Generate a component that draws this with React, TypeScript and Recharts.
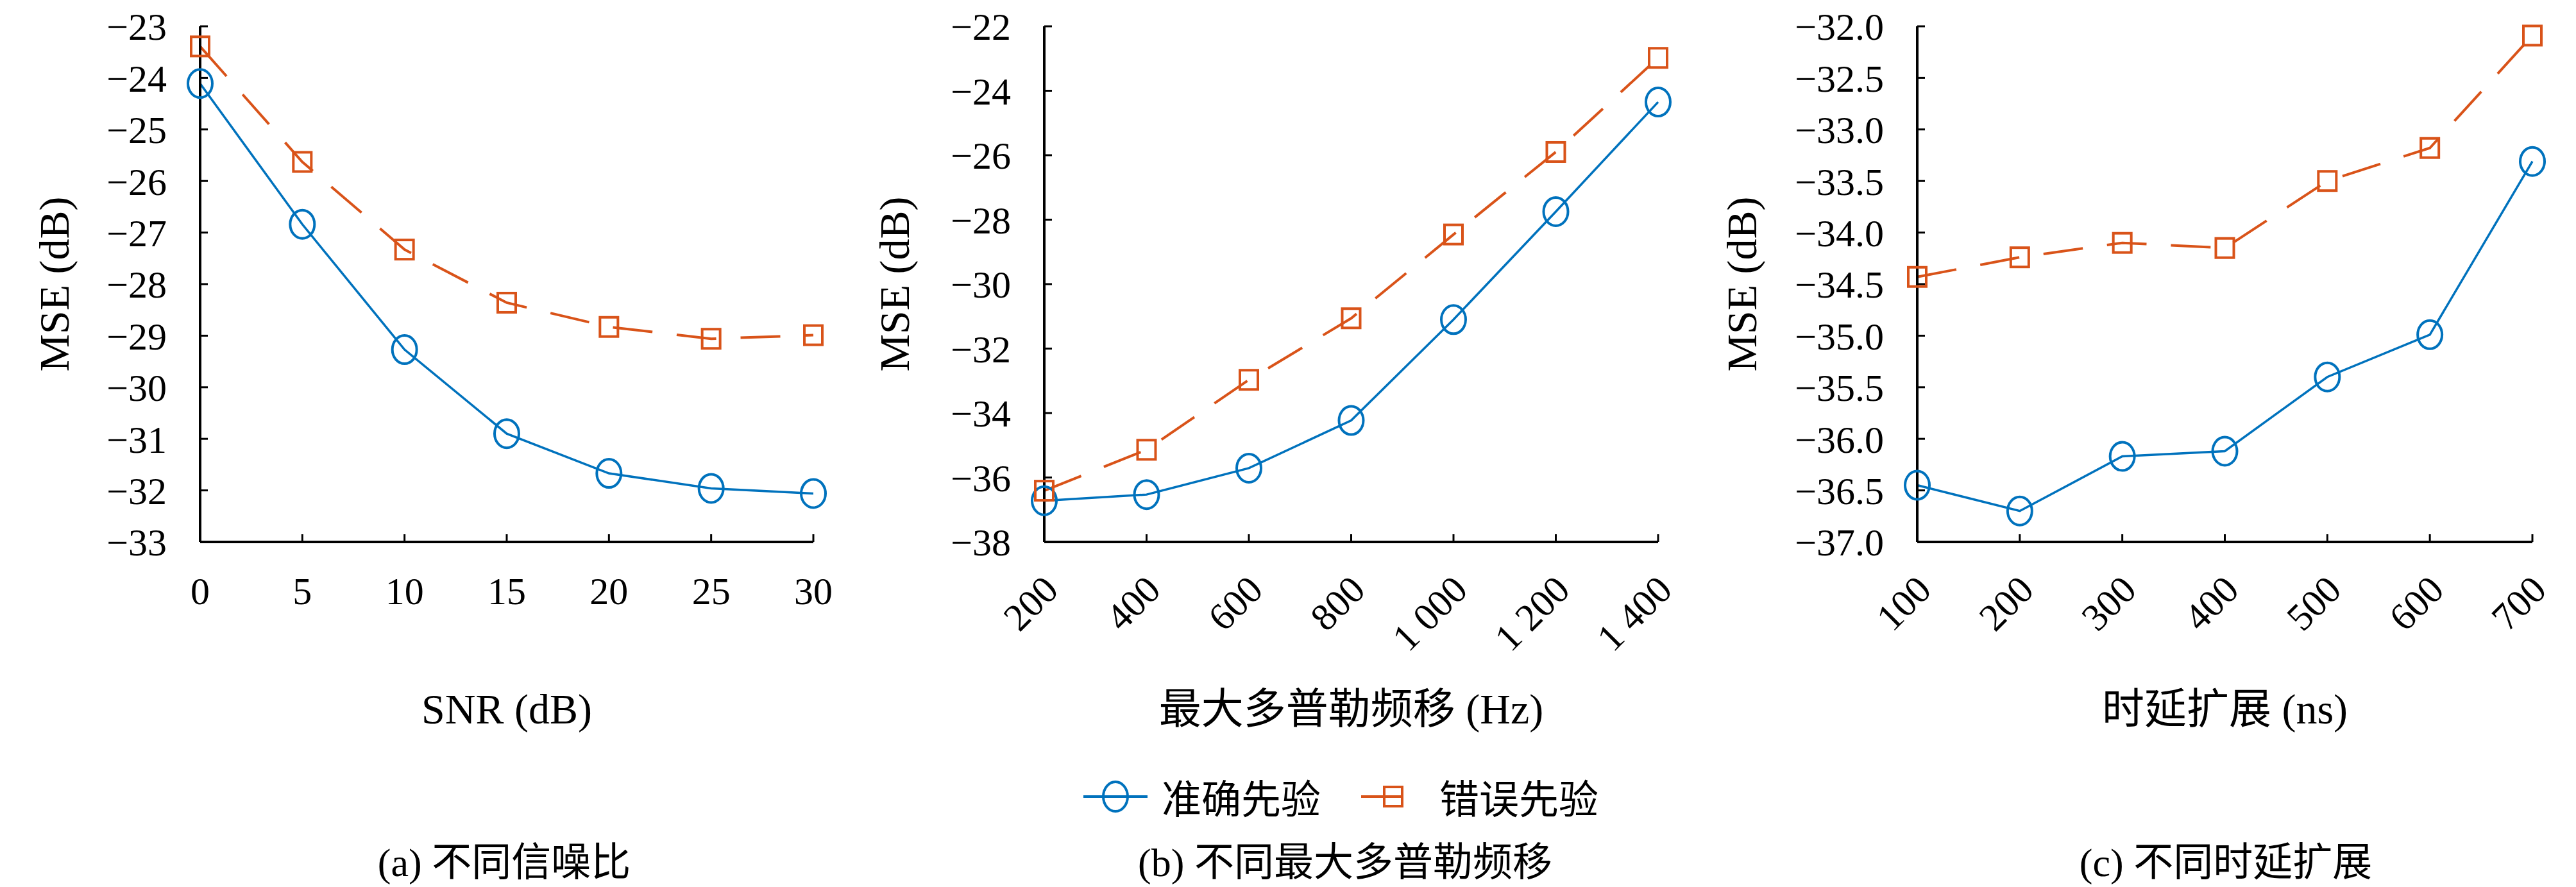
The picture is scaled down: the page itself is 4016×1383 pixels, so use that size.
import { LineChart, Line, XAxis, YAxis, Legend } from "recharts";

// (a) SNR sweep
const snr = [0, 5, 10, 15, 20, 25, 30];
const snrAccurate = [-24.11, -26.84, -29.27, -30.9, -31.67, -31.96, -32.06];
const snrWrong = [-23.39, -25.63, -27.33, -28.36, -28.83, -29.06, -28.99];
const snrYTicks = [-33, -32, -31, -30, -29, -28, -27, -26, -25, -24, -23];

// (b) max Doppler shift sweep
const doppler = [200, 400, 600, 800, 1000, 1200, 1400];
const dopplerAccurate = [-36.72, -36.53, -35.71, -34.23, -31.1, -27.75, -24.35];
const dopplerWrong = [-36.41, -35.14, -32.97, -31.06, -28.46, -25.9, -22.98];
const dopplerYTicks = [-38, -36, -34, -32, -30, -28, -26, -24, -22];

// (c) delay spread sweep
const delay = [100, 200, 300, 400, 500, 600, 700];
const delayAccurate = [-36.45, -36.7, -36.17, -36.12, -35.4, -34.99, -33.31];
const delayWrong = [-34.43, -34.24, -34.1, -34.15, -33.5, -33.18, -32.09];
const delayYTicks = [-37, -36.5, -36, -35.5, -35, -34.5, -34, -33.5, -33, -32.5, -32];

const seriesNames = ["准确先验", "错误先验"];

const BLUE = "#0072BD";
const ORANGE = "#D95319";
const FONT = "'Liberation Serif', 'Noto Sans CJK SC', serif";
const DASH = "62 38";

const rows = (xs: number[], acc: number[], wrong: number[]) =>
  xs.map((x, i) => ({ x, acc: acc[i], wrong: wrong[i] }));

const minus = (s: string) => s.replace("-", "\u2212");
const groupThousands = (v: number) =>
  v >= 1000 ? `${Math.floor(v / 1000)} ${String(v % 1000).padStart(3, "0")}` : String(v);

const CircleDot = (p: any) => (
  <ellipse key={p.index} cx={p.cx} cy={p.cy} rx={19} ry={22} fill="none" stroke={BLUE} strokeWidth={4} />
);
const SquareDot = (p: any) => (
  <rect key={p.index} x={p.cx - 14} y={p.cy - 15} width={28} height={30} fill="none" stroke={ORANGE} strokeWidth={4} />
);

const RotatedTick = (p: any) => {
  const x = p.x + 25;
  const y = p.y;
  return (
    <text
      x={x}
      y={y}
      transform={`rotate(-45 ${x} ${y})`}
      textAnchor="end"
      style={{ fontFamily: FONT, fontSize: 60 }}
      fill="#000"
    >
      {groupThousands(p.payload.value)}
    </text>
  );
};

const LegendContent = (props: any) => {
  const payload = props.payload || [];
  return (
    <div style={{ display: "flex", alignItems: "center", fontFamily: FONT, fontSize: 62, whiteSpace: "nowrap", color: "#000" }}>
      {payload.map((entry: any) => {
        const wrong = entry.dataKey === "wrong";
        return (
          <div key={entry.value} style={{ display: "flex", alignItems: "center", width: 433 }}>
            <svg width={100} height={60}>
              <line x1={0} x2={100} y1={30} y2={30} stroke={entry.color} strokeWidth={4} strokeDasharray={wrong ? DASH : undefined} />
              {wrong ? (
                <rect x={36} y={15} width={28} height={30} fill="none" stroke={ORANGE} strokeWidth={4} />
              ) : (
                <ellipse cx={50} cy={30} rx={19} ry={23} fill="none" stroke={BLUE} strokeWidth={4} />
              )}
            </svg>
            <span style={{ marginLeft: 22 }}>{entry.value}</span>
          </div>
        );
      })}
    </div>
  );
};

interface PanelProps {
  left: number;
  width: number;
  yAxisWidth: number;
  marginRight: number;
  data: { x: number; acc: number; wrong: number }[];
  xTicks: number[];
  yTicks: number[];
  yDigits: number;
  xLabel: string;
  yLabelOffset: number;
  rotated: boolean;
  legend?: boolean;
}

const tickStyle = { fontSize: 60, fontFamily: FONT, fill: "#000", style: { fontFamily: FONT } };
const labelStyle = { fontSize: 66, fontFamily: FONT, fill: "#000" };

function Panel(p: PanelProps) {
  const xDomain = [p.xTicks[0], p.xTicks[p.xTicks.length - 1]];
  const yDomain = [p.yTicks[0], p.yTicks[p.yTicks.length - 1]];
  const frame = { stroke: "#000", strokeWidth: 4 };
  return (
    <div style={{ position: "absolute", left: p.left, top: 0, fontFamily: FONT }}>
      <LineChart
        width={p.width}
        height={1383}
        data={p.data}
        margin={{ top: 41, right: p.marginRight, bottom: 238, left: 0 }}
        style={{ fontFamily: FONT }}
      >
        <XAxis
          dataKey="x"
          type="number"
          domain={xDomain}
          ticks={p.xTicks}
          interval={0}
          height={300}
          axisLine={frame}
          tickLine={{ stroke: "#000", strokeWidth: 3 }}
          tickSize={-12}
          tickMargin={p.rotated ? 90 : 66}
          tick={p.rotated ? <RotatedTick /> : tickStyle}
          label={{ value: p.xLabel, position: "insideBottom", offset: 17, ...labelStyle, style: { fontFamily: FONT } }}
        />
        <XAxis xAxisId="top" orientation="top" type="number" domain={xDomain} height={0} tick={false} tickLine={false} axisLine={frame} />
        <YAxis
          type="number"
          domain={yDomain}
          ticks={p.yTicks}
          interval={0}
          width={p.yAxisWidth}
          axisLine={frame}
          tickLine={{ stroke: "#000", strokeWidth: 3 }}
          tickSize={-12}
          tickMargin={64}
          tick={tickStyle}
          tickFormatter={(v: number) => minus(v.toFixed(p.yDigits))}
          label={{
            value: "MSE (dB)",
            angle: -90,
            position: "insideLeft",
            offset: p.yLabelOffset,
            ...labelStyle,
            style: { textAnchor: "middle", fontFamily: FONT },
          }}
        />
        <YAxis yAxisId="right" orientation="right" type="number" domain={yDomain} width={0} tick={false} tickLine={false} axisLine={frame} />
        <Line
          dataKey="acc"
          name={seriesNames[0]}
          stroke={BLUE}
          strokeWidth={3.5}
          dot={CircleDot}
          isAnimationActive={false}
        />
        <Line
          dataKey="wrong"
          name={seriesNames[1]}
          stroke={ORANGE}
          strokeWidth={4}
          strokeDasharray={DASH}
          dot={SquareDot}
          isAnimationActive={false}
        />
        {p.legend && (
          <Legend
            layout="vertical"
            verticalAlign="middle"
            align="center"
            content={<LegendContent />}
            wrapperStyle={{ position: "absolute", left: 350, top: 1197, width: 900, height: 60 }}
          />
        )}
      </LineChart>
    </div>
  );
}

const Caption = ({ center, text }: { center: number; text: string }) => (
  <div
    style={{
      position: "absolute",
      left: center - 500,
      top: 1305,
      width: 1000,
      lineHeight: "80px",
      textAlign: "center",
      fontFamily: FONT,
      fontSize: 62,
      color: "#000",
      whiteSpace: "nowrap",
    }}
  >
    {text}
  </div>
);

export default function App() {
  return (
    <div style={{ position: "absolute", left: 0, top: 0, width: 4016, height: 1383, background: "#fff", fontFamily: FONT }}>
      <Panel
        left={0}
        width={1339}
        yAxisWidth={312}
        marginRight={71}
        data={rows(snr, snrAccurate, snrWrong)}
        xTicks={snr}
        yTicks={snrYTicks}
        yDigits={0}
        xLabel="SNR (dB)"
        yLabelOffset={84}
        rotated={false}
      />
      <Panel
        left={1339}
        width={1339}
        yAxisWidth={289}
        marginRight={93}
        data={rows(doppler, dopplerAccurate, dopplerWrong)}
        xTicks={doppler}
        yTicks={dopplerYTicks}
        yDigits={0}
        xLabel="最大多普勒频移 (Hz)"
        yLabelOffset={55}
        rotated
        legend
      />
      <Panel
        left={2678}
        width={1338}
        yAxisWidth={311}
        marginRight={68}
        data={rows(delay, delayAccurate, delayWrong)}
        xTicks={delay}
        yTicks={delayYTicks}
        yDigits={1}
        xLabel="时延扩展 (ns)"
        yLabelOffset={37}
        rotated
      />
      <Caption center={786} text="(a) 不同信噪比" />
      <Caption center={2097} text="(b) 不同最大多普勒频移" />
      <Caption center={3470} text="(c) 不同时延扩展" />
    </div>
  );
}
